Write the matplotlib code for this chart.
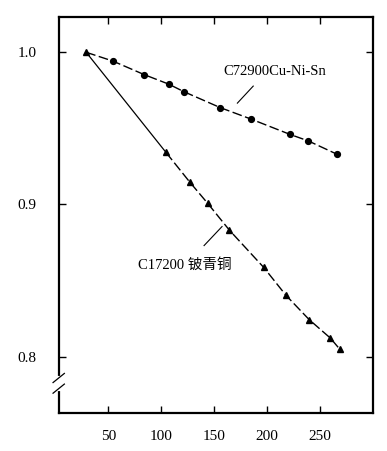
import numpy as np
import matplotlib.pyplot as plt

plt.rcParams['font.family'] = ['Liberation Serif', 'Noto Sans CJK SC']

# C72900 Cu-Ni-Sn (circles)
cu_x = [29, 54, 84, 107, 121.5, 156, 185, 222, 239, 266]
cu_y = [1.0, 0.9943, 0.9853, 0.9791, 0.9741, 0.9636, 0.9561, 0.9460, 0.9418, 0.9331]

# C17200 beryllium copper (triangles)
be_x = [29, 104.5, 127, 144, 164.5, 197, 218, 240, 260, 269]
be_y = [1.0, 0.9342, 0.9147, 0.9007, 0.8831, 0.8586, 0.8403, 0.8243, 0.8122, 0.8048]

xticks = [50, 100, 150, 200, 250]
yticks = [0.8, 0.9, 1.0]
ytick_labels = ["0.8", "0.9", "1.0"]

fig = plt.figure(figsize=(3.87, 4.51), dpi=100)
ax = fig.add_axes([0.1517, 0.0836, 0.8113, 0.8794])

# circle series, long dashes
ax.plot(cu_x, cu_y, color='black', lw=1.0, ls=(0, (7, 2.5)))
ax.plot(cu_x[1:], cu_y[1:], 'o', color='black', ms=4.2)

# triangle series: solid first segment, dashed after
ax.plot(be_x[:2], be_y[:2], color='black', lw=0.9)
ax.plot(be_x[1:], be_y[1:], color='black', lw=1.0, ls=(0, (7, 2.5)))
ax.plot(be_x, be_y, '^', color='black', ms=4.0)

ax.set_xlim(3, 300)
ax.set_ylim(0.7628, 1.0234)
ax.set_xticks(xticks)
ax.set_yticks(yticks)
ax.set_yticklabels(ytick_labels)
ax.tick_params(direction='in', top=True, right=True, length=5, width=1,
               labelsize=11)
ax.tick_params(axis='x', pad=12)
ax.tick_params(axis='y', pad=16)
for s in ax.spines.values():
    s.set_linewidth(1.6)

# labels with leader lines
ax.text(158.5, 0.9877, "C72900Cu-Ni-Sn", fontsize=10.5, va='center', ha='left')
ax.plot([187, 172], [0.9778, 0.9666], color='black', lw=0.8)
ax.text(78, 0.8605, "C17200 铍青铜", fontsize=10.5, va='center', ha='left')
ax.plot([157.5, 140.5], [0.8855, 0.873], color='black', lw=0.8)

# axis break mark on left spine
yb = 0.7825
ax.plot([0, 0], [yb - 0.0035, yb + 0.0035], transform=ax.get_yaxis_transform(),
        color='white', lw=3, clip_on=False, zorder=5)
for dy in (-0.0035, 0.0035):
    ax.plot([-0.018, 0.018], [yb + dy - 0.003, yb + dy + 0.003],
            transform=ax.get_yaxis_transform(), color='black', lw=0.9,
            clip_on=False, zorder=6)

fig.savefig('out.png', dpi=100)
